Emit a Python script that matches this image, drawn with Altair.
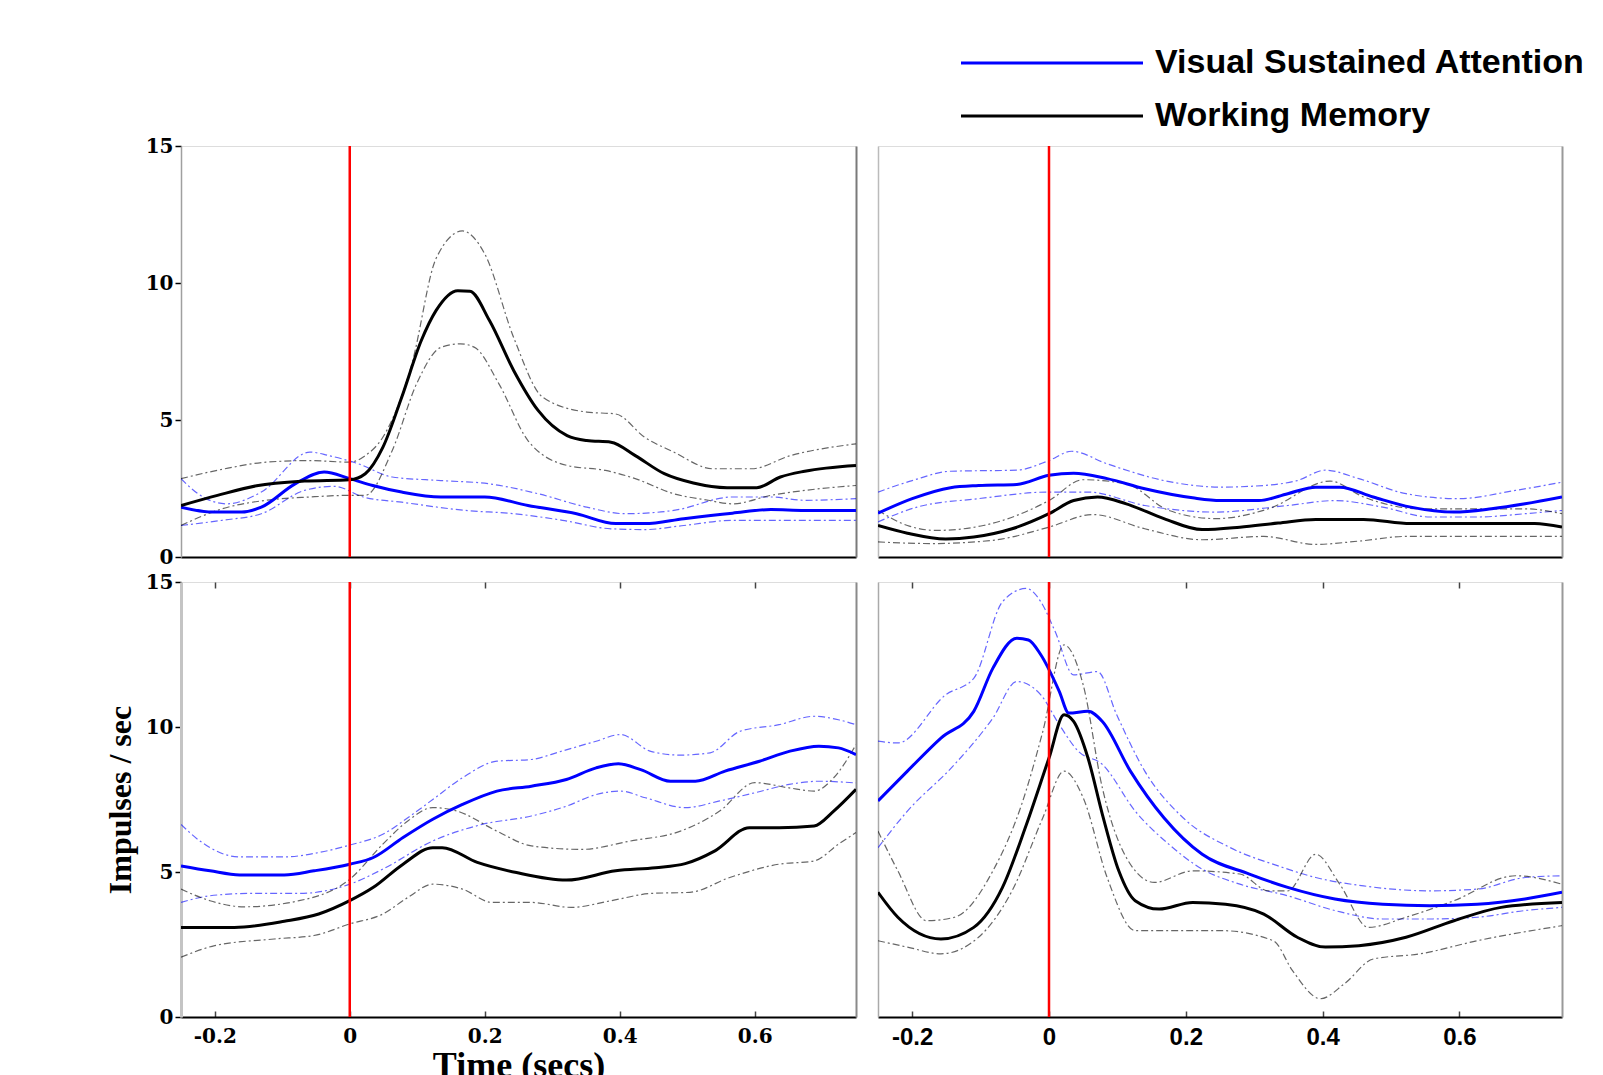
import altair as alt
import pandas as pd

VSA = "Visual Sustained Attention"
WM = "Working Memory"
conditions = [VSA, WM]
condition_colors = ["#0000ff", "#000000"]
stim_onset = [0.0]
y_ticks = [0, 5, 10, 15]
x_ticks = [-0.2, 0, 0.2, 0.4, 0.6]

# ---------------- Top-left panel ----------------
tl_vsa_mean_t = [-0.25,-0.203,-0.160,-0.131,-0.081,-0.038,0.0,0.034,0.077,0.135,0.200,0.264,0.336,0.394,0.437,0.495,0.567,0.624,0.674,0.75]
tl_vsa_mean_v = [1.82,1.64,1.64,1.82,2.67,3.10,2.86,2.61,2.37,2.19,2.19,1.88,1.58,1.22,1.22,1.40,1.60,1.73,1.70,1.70]
tl_vsa_up_t = [-0.25,-0.225,-0.182,-0.131,-0.059,-0.031,0.013,0.063,0.135,0.207,0.279,0.351,0.408,0.480,0.567,0.624,0.674,0.75]
tl_vsa_up_v = [2.86,2.31,1.94,2.37,3.83,3.70,3.40,2.92,2.79,2.67,2.31,1.82,1.58,1.70,2.19,2.19,2.07,2.13]
tl_vsa_lo_t = [-0.25,-0.189,-0.131,-0.067,-0.023,0.020,0.077,0.171,0.243,0.315,0.387,0.437,0.495,0.567,0.638,0.75]
tl_vsa_lo_v = [1.15,1.34,1.58,2.43,2.58,2.19,2.00,1.70,1.58,1.34,1.03,1.00,1.15,1.34,1.34,1.34]
tl_wm_mean_t = [-0.25,-0.196,-0.138,-0.067,0.0,0.023,0.049,0.077,0.106,0.128,0.160,0.178,0.207,0.243,0.279,0.322,0.351,0.387,0.423,0.466,0.509,0.559,0.603,0.638,0.674,0.75]
tl_wm_mean_v = [1.88,2.25,2.60,2.77,2.82,3.04,4.00,5.83,7.90,9.00,9.72,9.70,8.63,6.80,5.35,4.43,4.25,4.19,3.70,3.04,2.70,2.53,2.53,2.92,3.13,3.34]
tl_wm_up_t = [-0.25,-0.189,-0.124,-0.059,0.0,0.023,0.049,0.092,0.128,0.167,0.200,0.243,0.286,0.351,0.394,0.437,0.480,0.538,0.595,0.653,0.75]
tl_wm_up_v = [2.86,3.20,3.46,3.52,3.46,3.70,4.37,7.05,10.90,11.90,11.06,8.00,5.83,5.29,5.22,4.37,3.83,3.22,3.22,3.70,4.13]
tl_wm_lo_t = [-0.25,-0.189,-0.124,-0.059,0.0,0.023,0.063,0.099,0.135,0.164,0.185,0.221,0.264,0.322,0.379,0.423,0.480,0.531,0.567,0.624,0.674,0.75]
tl_wm_lo_v = [1.15,1.76,2.07,2.19,2.25,2.25,3.89,6.32,7.65,7.78,7.65,6.32,4.25,3.34,3.16,2.86,2.31,2.07,1.94,2.25,2.43,2.61]

# ---------------- Top-right panel ----------------
tr_vsa_mean_t = [-0.25,-0.200,-0.144,-0.103,-0.047,0.0,0.036,0.085,0.140,0.210,0.251,0.307,0.349,0.390,0.425,0.474,0.529,0.592,0.647,0.696,0.75]
tr_vsa_mean_v = [1.60,2.13,2.53,2.61,2.65,2.98,3.06,2.86,2.49,2.16,2.06,2.06,2.31,2.55,2.55,2.19,1.82,1.64,1.76,1.94,2.19]
tr_vsa_up_t = [-0.25,-0.200,-0.144,-0.047,0.0,0.033,0.085,0.168,0.251,0.314,0.363,0.404,0.453,0.522,0.599,0.682,0.75]
tr_vsa_up_v = [2.37,2.79,3.13,3.17,3.52,3.86,3.40,2.79,2.55,2.61,2.79,3.17,2.86,2.31,2.13,2.43,2.73]
tr_vsa_lo_t = [-0.25,-0.193,-0.103,0.0,0.057,0.140,0.244,0.349,0.418,0.488,0.557,0.626,0.696,0.75]
tr_vsa_lo_v = [1.28,1.82,2.13,2.37,2.37,1.88,1.64,1.88,2.06,1.82,1.46,1.46,1.58,1.70]
tr_wm_mean_t = [-0.25,-0.207,-0.151,-0.110,-0.054,0.0,0.036,0.071,0.113,0.168,0.224,0.279,0.335,0.390,0.460,0.529,0.626,0.710,0.75]
tr_wm_mean_v = [1.15,0.87,0.66,0.73,1.03,1.58,2.06,2.19,1.94,1.40,1.00,1.09,1.24,1.37,1.37,1.22,1.22,1.22,1.09]
tr_wm_up_t = [-0.25,-0.207,-0.165,-0.096,0.0,0.050,0.113,0.175,0.244,0.321,0.411,0.460,0.543,0.626,0.696,0.75]
tr_wm_up_v = [1.70,1.15,0.97,1.15,2.06,2.82,2.67,1.70,1.40,1.76,2.77,2.19,1.76,1.76,1.76,1.58]
tr_wm_lo_t = [-0.25,-0.172,-0.082,0.0,0.064,0.140,0.224,0.314,0.390,0.453,0.522,0.626,0.75]
tr_wm_lo_v = [0.55,0.49,0.61,1.09,1.55,1.03,0.63,0.75,0.46,0.58,0.75,0.75,0.75]

# ---------------- Bottom-left panel ----------------
bl_vsa_mean_t = [-0.25,-0.207,-0.163,-0.097,-0.053,0.0,0.035,0.079,0.123,0.167,0.218,0.269,0.321,0.365,0.398,0.431,0.475,0.512,0.556,0.607,0.651,0.695,0.724,0.75]
bl_vsa_mean_v = [5.21,5.04,4.90,4.90,5.04,5.27,5.50,6.19,6.82,7.33,7.79,7.96,8.19,8.59,8.73,8.53,8.13,8.13,8.48,8.82,9.16,9.34,9.28,9.05]
bl_vsa_up_t = [-0.25,-0.222,-0.163,-0.097,-0.046,0.0,0.049,0.086,0.123,0.167,0.218,0.269,0.313,0.365,0.401,0.446,0.490,0.534,0.578,0.636,0.688,0.724,0.75]
bl_vsa_up_v = [6.64,6.07,5.52,5.52,5.67,5.93,6.30,6.87,7.50,8.25,8.82,8.88,9.16,9.51,9.74,9.16,9.03,9.11,9.85,10.08,10.37,10.25,10.08]
bl_vsa_lo_t = [-0.25,-0.207,-0.149,-0.075,0.0,0.049,0.123,0.196,0.269,0.321,0.365,0.401,0.438,0.497,0.548,0.600,0.651,0.695,0.75]
bl_vsa_lo_v = [3.95,4.18,4.26,4.26,4.58,5.10,6.07,6.64,6.93,7.27,7.67,7.79,7.56,7.22,7.45,7.73,8.02,8.13,8.07]
bl_wm_mean_t = [-0.25,-0.171,-0.097,-0.046,0.0,0.035,0.079,0.123,0.137,0.189,0.247,0.321,0.394,0.453,0.497,0.541,0.592,0.636,0.688,0.717,0.75]
bl_wm_mean_v = [3.09,3.09,3.30,3.55,4.01,4.47,5.27,5.84,5.84,5.33,4.98,4.72,5.04,5.15,5.29,5.73,6.53,6.53,6.59,7.10,7.85]
bl_wm_up_t = [-0.25,-0.207,-0.156,-0.075,0.0,0.049,0.086,0.123,0.159,0.218,0.269,0.343,0.416,0.490,0.548,0.600,0.651,0.688,0.717,0.75]
bl_wm_up_v = [4.41,4.01,3.80,4.01,4.75,5.96,6.76,7.22,7.10,6.41,5.90,5.78,6.07,6.41,7.10,8.08,7.90,7.79,8.25,9.39]
bl_wm_lo_t = [-0.25,-0.200,-0.112,-0.053,0.0,0.049,0.086,0.123,0.167,0.211,0.269,0.328,0.387,0.446,0.504,0.563,0.636,0.688,0.724,0.75]
bl_wm_lo_v = [2.06,2.46,2.69,2.81,3.21,3.55,4.12,4.58,4.41,3.95,3.95,3.78,4.01,4.26,4.30,4.81,5.27,5.38,5.96,6.36]

# ---------------- Bottom-right panel ----------------
br_vsa_mean_t = [-0.25,-0.207,-0.158,-0.110,-0.082,-0.047,-0.030,-0.012,0.015,0.029,0.057,0.078,0.119,0.168,0.224,0.293,0.349,0.418,0.488,0.557,0.626,0.696,0.75]
br_vsa_mean_v = [7.45,8.48,9.62,10.54,12.03,13.06,13.00,12.49,11.23,10.48,10.54,10.19,8.48,6.87,5.61,4.93,4.47,4.07,3.89,3.84,3.89,4.07,4.30]
br_vsa_up_t = [-0.25,-0.221,-0.151,-0.110,-0.068,-0.033,-0.012,0.009,0.036,0.071,0.099,0.140,0.196,0.265,0.335,0.390,0.460,0.557,0.626,0.696,0.75]
br_vsa_up_v = [9.51,9.45,11.11,11.68,14.32,14.78,14.32,13.29,11.80,11.91,10.42,8.48,6.87,5.84,5.21,4.81,4.52,4.35,4.41,4.81,4.87]
br_vsa_lo_t = [-0.25,-0.207,-0.138,-0.082,-0.047,-0.012,0.015,0.043,0.078,0.126,0.175,0.224,0.279,0.349,0.418,0.488,0.557,0.626,0.696,0.75]
br_vsa_lo_v = [5.84,7.10,8.71,10.31,11.57,11.11,10.08,9.16,8.71,7.10,5.96,5.10,4.58,4.18,3.67,3.38,3.38,3.44,3.67,3.78]
br_wm_mean_t = [-0.25,-0.221,-0.158,-0.110,-0.068,-0.033,0.0,0.022,0.036,0.057,0.078,0.102,0.126,0.161,0.210,0.258,0.314,0.363,0.404,0.453,0.522,0.592,0.661,0.75]
br_wm_mean_v = [4.30,3.44,2.69,3.09,4.47,6.64,8.93,10.42,10.19,8.93,6.99,5.04,4.01,3.72,3.95,3.89,3.55,2.75,2.41,2.46,2.75,3.32,3.78,3.95]
br_wm_up_t = [-0.25,-0.221,-0.179,-0.138,-0.082,-0.040,-0.009,0.022,0.050,0.078,0.113,0.154,0.210,0.279,0.321,0.349,0.390,0.425,0.467,0.522,0.592,0.682,0.75]
br_wm_up_v = [6.41,5.04,3.32,3.44,5.04,7.33,9.85,12.83,11.45,7.90,5.50,4.64,5.04,4.93,4.35,4.35,5.61,4.58,3.09,3.44,4.01,4.87,4.58]
br_wm_lo_t = [-0.25,-0.207,-0.158,-0.103,-0.054,-0.009,0.022,0.050,0.085,0.126,0.175,0.251,0.328,0.356,0.397,0.432,0.474,0.543,0.626,0.75]
br_wm_lo_v = [2.63,2.41,2.18,2.75,4.35,6.87,8.48,7.56,4.81,2.98,2.98,2.98,2.63,1.60,0.63,1.15,2.00,2.18,2.63,3.15]

series = [
    ("TL", VSA, "mean", tl_vsa_mean_t, tl_vsa_mean_v), ("TL", VSA, "upper", tl_vsa_up_t, tl_vsa_up_v),
    ("TL", VSA, "lower", tl_vsa_lo_t, tl_vsa_lo_v), ("TL", WM, "mean", tl_wm_mean_t, tl_wm_mean_v),
    ("TL", WM, "upper", tl_wm_up_t, tl_wm_up_v), ("TL", WM, "lower", tl_wm_lo_t, tl_wm_lo_v),
    ("TR", VSA, "mean", tr_vsa_mean_t, tr_vsa_mean_v), ("TR", VSA, "upper", tr_vsa_up_t, tr_vsa_up_v),
    ("TR", VSA, "lower", tr_vsa_lo_t, tr_vsa_lo_v), ("TR", WM, "mean", tr_wm_mean_t, tr_wm_mean_v),
    ("TR", WM, "upper", tr_wm_up_t, tr_wm_up_v), ("TR", WM, "lower", tr_wm_lo_t, tr_wm_lo_v),
    ("BL", VSA, "mean", bl_vsa_mean_t, bl_vsa_mean_v), ("BL", VSA, "upper", bl_vsa_up_t, bl_vsa_up_v),
    ("BL", VSA, "lower", bl_vsa_lo_t, bl_vsa_lo_v), ("BL", WM, "mean", bl_wm_mean_t, bl_wm_mean_v),
    ("BL", WM, "upper", bl_wm_up_t, bl_wm_up_v), ("BL", WM, "lower", bl_wm_lo_t, bl_wm_lo_v),
    ("BR", VSA, "mean", br_vsa_mean_t, br_vsa_mean_v), ("BR", VSA, "upper", br_vsa_up_t, br_vsa_up_v),
    ("BR", VSA, "lower", br_vsa_lo_t, br_vsa_lo_v), ("BR", WM, "mean", br_wm_mean_t, br_wm_mean_v),
    ("BR", WM, "upper", br_wm_up_t, br_wm_up_v), ("BR", WM, "lower", br_wm_lo_t, br_wm_lo_v),
]

rows = []
for panel, cond, kind, ts, vs in series:
    for t, v in zip(ts, vs):
        rows.append({"panel": panel, "condition": cond, "kind": kind, "line": cond + kind, "t": t, "v": v})
df = pd.DataFrame(rows)
onset_df = pd.DataFrame({"t": stim_onset})

xscale = alt.Scale(domain=[-0.25, 0.75], nice=False, zero=False)
yscale = alt.Scale(domain=[0, 15], nice=False, zero=False)
cscale = alt.Scale(domain=conditions, range=condition_colors)

legend = alt.Legend(
    orient="none", legendX=854, legendY=-100, title=None,
    symbolType="M-9.1,0H9.1", symbolSize=400, symbolStrokeWidth=3, symbolOpacity=1,
    symbolDash=[1, 0], labelFont="Liberation Sans", labelFontWeight="bold",
    labelFontSize=34, labelColor="black", labelOffset=86, rowPadding=19, labelLimit=1000,
)

MINUS_FIX = "replace(datum.label, '\u2212', '-')"


def left_axis(show, title_opacity, domain_color, domain_width):
    if show:
        return alt.Axis(orient="left", values=y_ticks, tickSize=6, tickColor="black", tickWidth=1.5,
                        labelFont="DejaVu Serif", labelFontWeight="bold", labelFontSize=20,
                        labelColor="black", labelPadding=2, domainColor=domain_color,
                        domainWidth=domain_width, grid=False, titleFont="Liberation Serif",
                        titleFontWeight="bold", titleFontSize=32, titleColor="black",
                        titleOpacity=title_opacity, titlePadding=8)
    return alt.Axis(orient="left", labels=False, ticks=False, domainColor=domain_color,
                    domainWidth=domain_width, grid=False)


def right_axis(color):
    return alt.Axis(orient="right", labels=False, ticks=False, domainColor=color, domainWidth=2, grid=False)


def bottom_axis(style):
    if style == "none":
        return alt.Axis(orient="bottom", labels=False, ticks=False, domainColor="black", domainWidth=2, grid=False)
    if style == "serif":
        return alt.Axis(orient="bottom", values=x_ticks, format=".1~f", labelExpr=MINUS_FIX, ticks=False,
                        domainColor="black", domainWidth=2, grid=False, labelFont="DejaVu Serif",
                        labelFontWeight="bold", labelFontSize=20, labelColor="black", labelPadding=9,
                        titleFont="Liberation Serif", titleFontWeight="bold", titleFontSize=36,
                        titleColor="black", titlePadding=2)
    return alt.Axis(orient="bottom", values=x_ticks, format=".1~f", labelExpr=MINUS_FIX, ticks=False,
                    domainColor="black", domainWidth=2, grid=False, labelFont="Liberation Sans",
                    labelFontWeight="bold", labelFontSize=24, labelColor="black", labelPadding=8)


def inner_ticks(orient):
    return alt.Axis(orient=orient, values=x_ticks, labels=False, domain=False, ticks=True,
                    tickSize=6, tickWidth=1.5, tickColor="#444444", offset=-6, grid=False)


def make_panel(key, w, h, show_y, y_title_opacity, x_style, left_color, left_width, right_color):
    src = df[df["panel"] == key]
    bottom_row = x_style != "none"
    x_title = "Time (secs)" if x_style == "serif" else None
    x_main = alt.X("t:Q", scale=xscale, axis=bottom_axis(x_style), title=x_title)
    if bottom_row:
        x_bounds = alt.X("t:Q", scale=xscale, axis=inner_ticks("bottom"), title=None)
        x_onset = alt.X("t:Q", scale=xscale, axis=inner_ticks("top"), title=None)
    else:
        x_bounds = alt.X("t:Q", scale=xscale, axis=None)
        x_onset = alt.X("t:Q", scale=xscale, axis=None)
    color = alt.Color("condition:N", scale=cscale, legend=legend)
    y_title = "Impulses / sec" if show_y else None
    bounds = alt.Chart(src).transform_filter("datum.kind != 'mean'").mark_line(
        strokeWidth=1.2, strokeDash=[7, 3, 2, 3], opacity=0.6, interpolate="monotone", clip=True
    ).encode(x=x_bounds, y=alt.Y("v:Q", scale=yscale, axis=right_axis(right_color), title=None),
             color=color, detail="line:N")
    means = alt.Chart(src).transform_filter("datum.kind == 'mean'").mark_line(
        strokeWidth=3, interpolate="monotone", clip=True
    ).encode(x=x_main,
             y=alt.Y("v:Q", scale=yscale, axis=left_axis(show_y, y_title_opacity, left_color, left_width),
                     title=y_title),
             color=color, detail="line:N")
    onset = alt.Chart(onset_df).mark_rule(color="#ff0000", strokeWidth=2.5).encode(x=x_onset)
    return alt.layer(bounds, means, onset).resolve_axis(x="independent", y="independent").properties(
        width=w, height=h)


tl = make_panel("TL", 675, 411, True, 0, "none", "#a0a0a0", 1.5, "#7a7a7a")
tr = make_panel("TR", 684, 411, False, 1, "none", "#bbbbbb", 1.5, "#999999")
bl = make_panel("BL", 675, 435, True, 1, "serif", "#c4c4c4", 3, "#8a8a8a")
br = make_panel("BR", 684, 435, False, 1, "sans", "#aaaaaa", 1.5, "#999999")

chart = alt.vconcat(
    alt.hconcat(tl, tr, spacing=20),
    alt.hconcat(bl, br, spacing=20),
    spacing=3,
).properties(
    padding={"left": 95, "top": 38, "right": 2, "bottom": 0}
).configure_view(stroke=None).configure(background="white")

chart.save("out.html", embed_options={"renderer": "svg", "actions": False})
